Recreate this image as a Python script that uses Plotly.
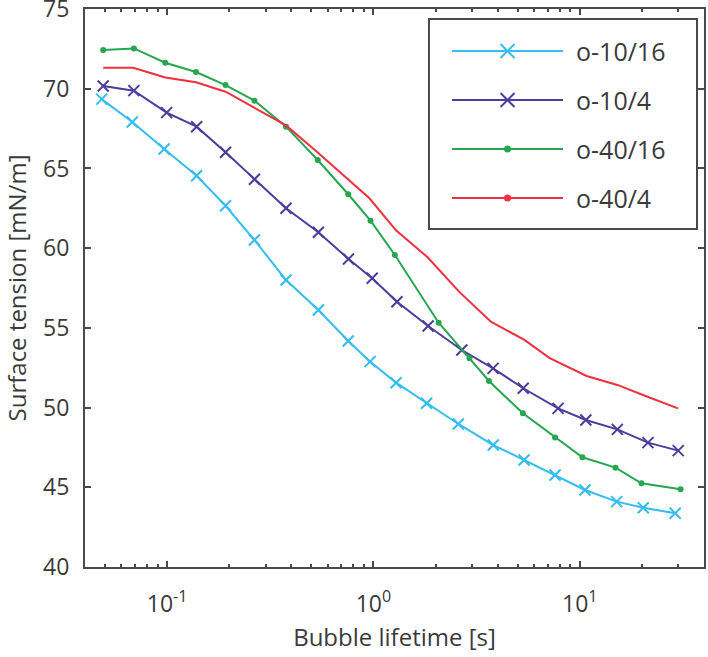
import plotly.graph_objects as go

# ---------------- data ----------------
names = ["o-10/16", "o-10/4", "o-40/16", "o-40/4"]
colors = ["#35BDF0", "#4B3D9B", "#26A650", "#F0303C"]

x_o10_16 = [0.0482, 0.0678, 0.0968, 0.139, 0.192, 0.265, 0.377, 0.541, 0.755, 0.963,
            1.287, 1.81, 2.58, 3.81, 5.37, 7.59, 10.6, 15.1, 20.3, 29.0]
y_o10_16 = [69.35, 67.91, 66.22, 64.54, 62.66, 60.51, 58.0, 56.12, 54.18, 52.88,
            51.56, 50.27, 48.97, 47.65, 46.71, 45.77, 44.83, 44.10, 43.72, 43.37]

x_o10_4 = [0.0490, 0.0690, 0.0995, 0.139, 0.192, 0.265, 0.377, 0.541, 0.757, 0.986,
           1.30, 1.84, 2.68, 3.80, 5.32, 7.85, 10.7, 15.2, 21.4, 30.0]
y_o10_4 = [70.17, 69.88, 68.50, 67.62, 66.01, 64.32, 62.50, 61.0, 59.32, 58.11,
           56.64, 55.12, 53.61, 52.46, 51.21, 49.95, 49.22, 48.63, 47.80, 47.30]

x_o40_16 = [0.0490, 0.0690, 0.0980, 0.138, 0.192, 0.265, 0.377, 0.537, 0.755, 0.968,
            1.27, 2.07, 2.92, 3.63, 5.30, 7.59, 10.3, 14.9, 19.9, 30.8]
y_o40_16 = [72.43, 72.53, 71.63, 71.05, 70.23, 69.25, 67.62, 65.53, 63.38, 61.72,
            59.57, 55.32, 53.09, 51.67, 49.64, 48.13, 46.88, 46.23, 45.25, 44.87]

x_o40_4 = [0.0490, 0.0685, 0.0980, 0.138, 0.192, 0.265, 0.377, 0.537, 0.739, 0.956,
           1.29, 1.83, 2.60, 3.71, 5.39, 7.15, 10.8, 15.2, 21.3, 29.9]
y_o40_4 = [71.32, 71.32, 70.71, 70.40, 69.81, 68.81, 67.70, 66.00, 64.38, 63.13,
           61.10, 59.43, 57.27, 55.39, 54.24, 53.10, 51.98, 51.42, 50.68, 49.95]

xs = [x_o10_16, x_o10_4, x_o40_16, x_o40_4]
ys = [y_o10_16, y_o10_4, y_o40_16, y_o40_4]
symbols = ["x-thin", "x-thin", "circle", None]

x_tickvals = [0.1, 1, 10]
x_ticktext = ["10<sup>-1</sup>", "10<sup>0</sup>", "10<sup>1</sup>"]
x_minor = [0.05, 0.06, 0.07, 0.08, 0.09, 0.2, 0.3, 0.4, 0.5, 0.6, 0.7, 0.8, 0.9,
           2, 3, 4, 5, 6, 7, 8, 9, 20, 30]
y_tickvals = [40, 45, 50, 55, 60, 65, 70, 75]

FONT = "Open Sans"
AX = "#4a4a4a"
TXT = "#3a3a3a"

fig = go.Figure()
for name, c, x, y, sym in zip(names, colors, xs, ys, symbols):
    if sym is None:
        fig.add_trace(go.Scatter(x=x, y=y, mode="lines", name=name,
                                 line=dict(color=c, width=2), showlegend=False))
    elif sym == "circle":
        fig.add_trace(go.Scatter(x=x, y=y, mode="lines+markers", name=name,
                                 line=dict(color=c, width=2),
                                 marker=dict(symbol="circle", size=6, color=c),
                                 showlegend=False))
    else:
        fig.add_trace(go.Scatter(x=x, y=y, mode="lines+markers", name=name,
                                 line=dict(color=c, width=2),
                                 marker=dict(symbol="x-thin", size=11,
                                             line=dict(color=c, width=2)),
                                 showlegend=False))

# ---------------- hand-built legend (long line swatches) ----------------
shapes = []
annotations = []
lx0, lx1, lxm, ltx = 0.5929, 0.7722, 0.6826, 0.7900
ly = [0.9247, 0.8369, 0.7491, 0.6613]
shapes.append(dict(type="rect", xref="paper", yref="paper", x0=0.5557, x1=0.9887,
                   y0=0.6057, y1=0.9821, line=dict(color=AX, width=2),
                   fillcolor="white", layer="above"))
for i, (name, c) in enumerate(zip(names, colors)):
    shapes.append(dict(type="line", xref="paper", yref="paper", x0=lx0, x1=lx1,
                       y0=ly[i], y1=ly[i], line=dict(color=c, width=1.8), layer="above"))
    if i < 2:
        shapes.append(dict(type="path", xref="paper", yref="paper",
                           xsizemode="pixel", ysizemode="pixel",
                           xanchor=lxm, yanchor=ly[i],
                           path="M-7,-7L7,7M-7,7L7,-7",
                           line=dict(color=c, width=2), layer="above"))
    else:
        shapes.append(dict(type="circle", xref="paper", yref="paper",
                           xsizemode="pixel", ysizemode="pixel",
                           xanchor=lxm, yanchor=ly[i], x0=-3.5, x1=3.5, y0=-3.5, y1=3.5,
                           fillcolor=c, line=dict(color=c, width=0), layer="above"))
    annotations.append(dict(xref="paper", yref="paper", x=ltx, y=ly[i],
                            xanchor="left", yanchor="middle", showarrow=False,
                            text=name, font=dict(family=FONT, size=25, color=TXT)))

fig.update_layout(
    width=708, height=657,
    margin=dict(l=85, r=4, t=9, b=90),
    paper_bgcolor="white", plot_bgcolor="white",
    showlegend=False,
    shapes=shapes, annotations=annotations,
    font=dict(family=FONT, color=TXT),
)
fig.update_xaxes(
    type="log", range=[-1.39794, 1.60206], automargin=False,
    tickmode="array", tickvals=x_tickvals, ticktext=x_ticktext,
    ticks="inside", ticklen=6, tickwidth=1.5, tickcolor=AX,
    minor=dict(tickmode="array", tickvals=x_minor, ticks="inside", ticklen=3,
               tickwidth=1.5, tickcolor=AX, showgrid=False),
    showline=True, linecolor=AX, linewidth=2, mirror="ticks",
    showgrid=False, zeroline=False,
    ticklabelstandoff=15, ticklabeloverflow="allow",
    tickfont=dict(family=FONT, size=23, color=TXT),
    title=dict(text="Bubble lifetime [s]", font=dict(family=FONT, size=24, color=TXT),
               standoff=12),
)
fig.update_yaxes(
    range=[39.999, 75.001], automargin=False, tickmode="array", tickvals=y_tickvals,
    ticks="inside", ticklen=6, tickwidth=1.5, tickcolor=AX,
    showline=True, linecolor=AX, linewidth=2, mirror="ticks",
    showgrid=False, zeroline=False,
    ticklabelstandoff=9, ticklabeloverflow="allow",
    tickfont=dict(family=FONT, size=23, color=TXT),
    title=dict(text="Surface tension [mN/m]", font=dict(family=FONT, size=24, color=TXT),
               standoff=14),
)

fig.write_html("out.html")
